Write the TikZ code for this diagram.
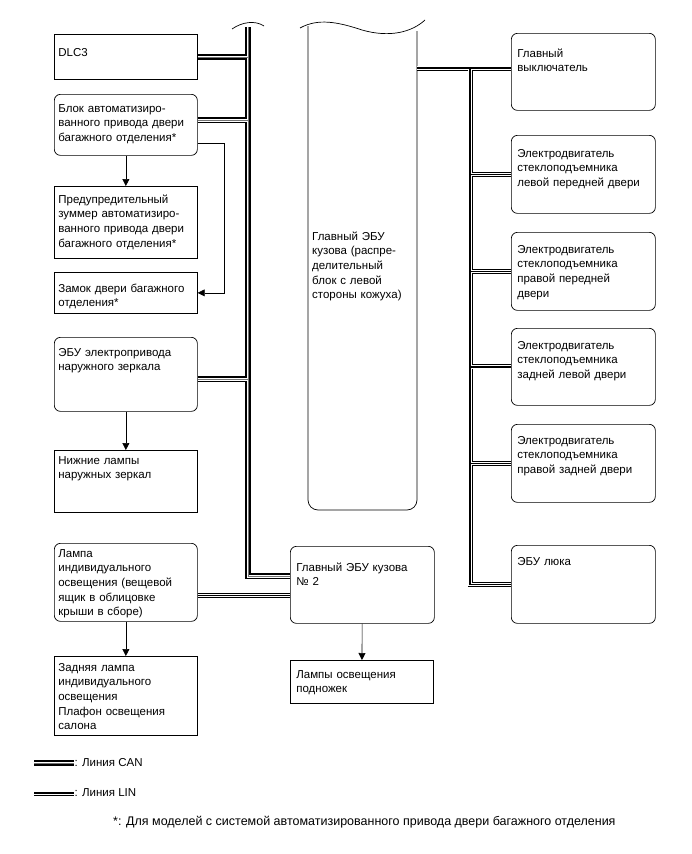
\documentclass[tikz,border=0pt]{standalone}
\usepackage{fontspec}
\setmainfont{Liberation Sans}
\usetikzlibrary{arrows.meta}
\newcommand{\boxfont}{\fontsize{11.5}{14.6}\selectfont}
\newcommand{\notefont}{\fontsize{12.5}{15}\selectfont}
\tikzset{
  unit/.style={draw, line width=0.7pt, anchor=north west, align=left,
    inner ysep=0pt, inner xsep=4pt, text width=135pt, font=\boxfont},
  ecu/.style={unit, rounded corners=6pt},
  rside/.style={ecu, inner xsep=6pt, text width=132pt},
  sz/.style 2 args={text height=#1pt, text depth=#2pt},
  can/.style={line width=6pt, postaction={draw=white, line width=2.6pt},
    postaction={draw=black!55, line width=0.6pt}},
  lin/.style={line width=5pt, postaction={draw=white, line width=3.4pt},
    postaction={draw=black, line width=1.3pt}},
  arr/.style={-{Triangle[length=7pt,width=7pt]}, line width=0.6pt},
}
\begin{document}
\begin{tikzpicture}[x=1pt, y=-1pt]
    \useasboundingbox (0,0) rectangle (691,854);

    % левая колонка
    \node[unit, sz={22}{23}] (dlc) at (54,34) {DLC3};
    \node[ecu, sz={18}{43}] (gate) at (54,94) {Блок автоматизиро-\\ванного привода двери\\багажного отделения*};
    \node[unit, sz={17}{55}] (buzzer) at (54,186) {Предупредительный\\зуммер автоматизиро-\\ванного привода двери\\багажного отделения*};
    \node[unit, sz={20}{21}] (lock) at (54,272) {Замок двери багажного\\отделения*};
    \node[ecu, sz={19}{55}] (mirror) at (54,337) {ЭБУ электропривода\\наружного зеркала};
    \node[unit, sz={14}{48}] (mlamp) at (54,450) {Нижние лампы\\наружных зеркал};
    \node[ecu, sz={14}{64}] (room) at (54,543) {Лампа\\индивидуального\\освещения (вещевой\\ящик в облицовке\\крыши в сборе)};
    \node[unit, sz={15}{64}] (rear) at (54,656) {Задняя лампа\\индивидуального\\освещения\\Плафон освещения\\салона};

    % главный ЭБУ кузова
    \draw[line width=0.7pt, rounded corners=10pt] (308,26) -- (308,510) -- (417,510) -- (417,31);
    \draw[line width=0.7pt] (300,28) .. controls (318,18) and (338,22) .. (362,30)
        .. controls (390,38) and (412,32) .. (425,20);
    \node[anchor=north west, inner sep=0pt, text width=105pt, align=left,
        text height=8pt, font=\boxfont] (bcm) at (312,232)
        {Главный ЭБУ\\кузова (распре-\\делительный\\блок с левой\\стороны кожуха)};
    \coordinate (bcmr) at (417,68);

    % ЭБУ № 2
    \node[rside, sz={25}{52}] (ecu2) at (290,546) {Главный ЭБУ кузова\\№ 2};
    \node[unit, inner xsep=6pt, text width=131pt, sz={18}{25}] (steplamp) at (290,660) {Лампы освещения\\подножек};

    % правая колонка
    \node[rside, sz={24}{53}] (mainsw) at (511,33) {Главный\\выключатель};
    \node[rside, sz={22}{56}] (fl) at (511,135) {Электродвигатель\\стеклоподъемника\\левой передней двери};
    \node[rside, sz={21}{57}] (fr) at (511,232) {Электродвигатель\\стеклоподъемника\\правой передней\\двери};
    \node[rside, sz={21}{56}] (rl) at (511,328) {Электродвигатель\\стеклоподъемника\\задней левой двери};
    \node[rside, sz={20}{58}] (rr) at (511,424) {Электродвигатель\\стеклоподъемника\\правой задней двери};
    \node[rside, sz={20}{58}] (roof) at (511,545) {ЭБУ люка};

    % шина CAN
    \coordinate (ltop) at (248,27);
    \draw[can] (ltop) |- ([yshift=8.5]ecu2.west)
        (dlc.east) -- (dlc.east -| ltop)
        ([yshift=4.5]gate.east) -- ([yshift=4.5]gate.east -| ltop)
        ([yshift=-5]mirror.east) -- ([yshift=-5]mirror.east -| ltop);
    \draw[line width=0.7pt] (232,29) .. controls (242,22) and (255,20) .. (264,26);

    % шина LIN
    \coordinate (rtop) at (470,68);
    \draw[lin] (bcmr) -- (bcmr -| mainsw.west)
        (rtop) |- (roof.west)
        (fl.west) -- (fl.west -| rtop)
        (fr.west) -- (fr.west -| rtop)
        (rl.west) -- (rl.west -| rtop)
        (rr.west) -- (rr.west -| rtop);
    \draw[lin] ([yshift=-13]room.east) -- ([yshift=-13]room.east -| ecu2.west);

    % стрелки
    \draw[arr] (gate) -- (buzzer);
    \draw[arr] ([yshift=-18]gate.east) -- ++(27,0) |- (lock.east);
    \draw[arr] (mirror) -- (mlamp);
    \draw[arr] (room) -- (rear);
    \draw[arr] (ecu2) -- (steplamp);

    % легенда
    \coordinate (canx) at (34,763);
    \node[anchor=west, inner sep=0.5pt, font=\boxfont] (canlbl) at (74,763) {: Линия CAN};
    \draw[can] (canx) -- (canlbl.west);
    \coordinate (linx) at (34,793);
    \node[anchor=west, inner sep=0.5pt, font=\boxfont] (linlbl) at (74,793) {: Линия LIN};
    \draw[lin] (linx) -- (linlbl.west);
    \node[anchor=west, inner sep=0pt, font=\notefont] (note) at (113,822)
        {*: Для моделей с системой автоматизированного привода двери багажного отделения};
\end{tikzpicture}
\end{document}
